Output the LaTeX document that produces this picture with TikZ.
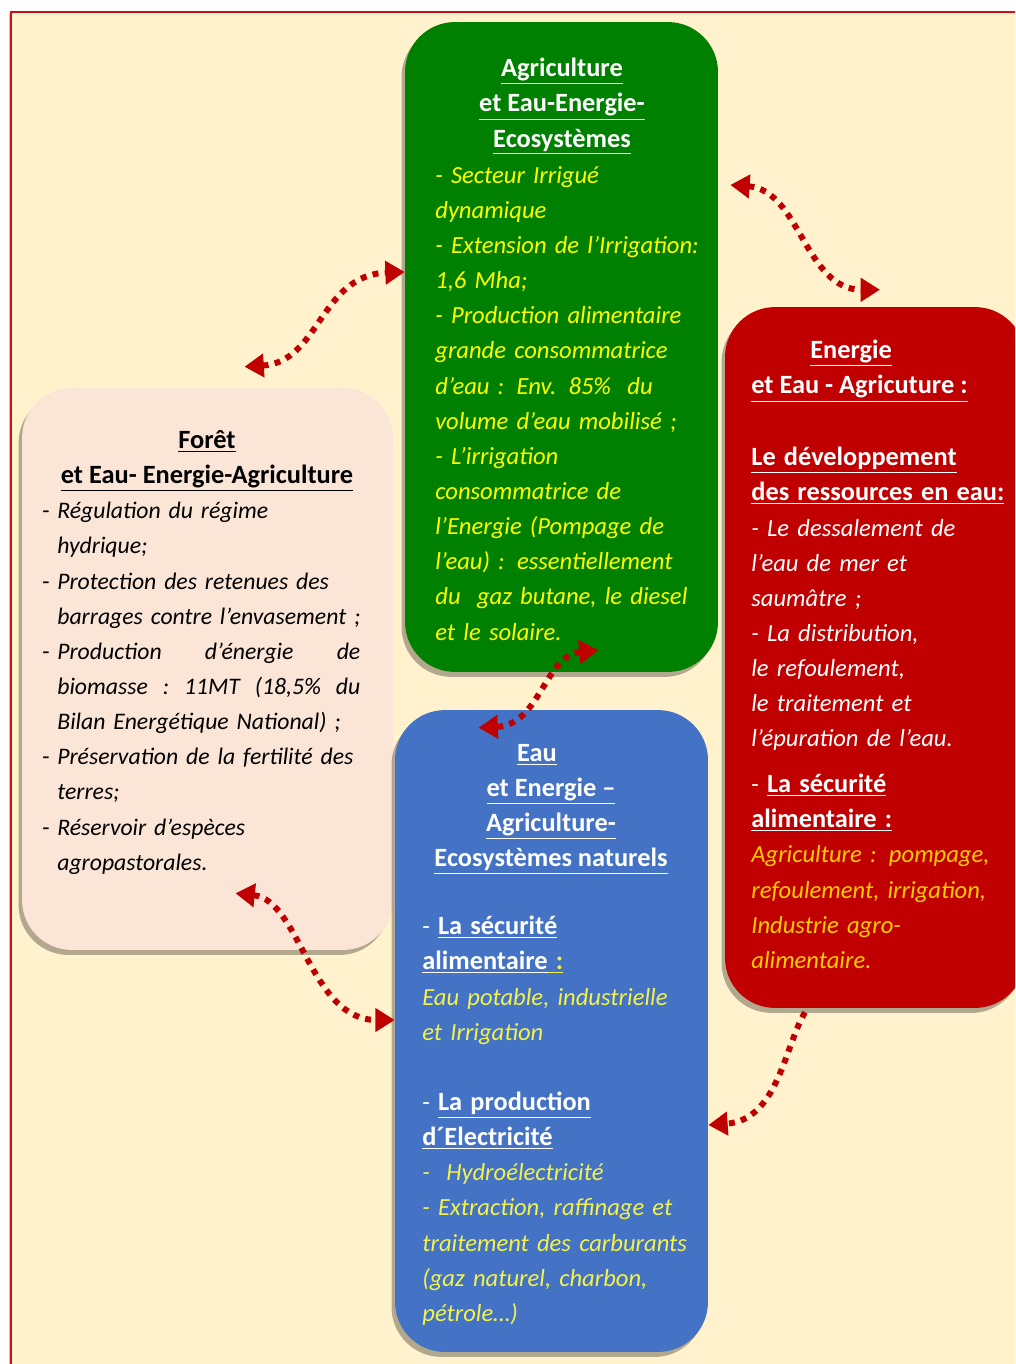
\documentclass[tikz,border=0pt]{standalone}
\usepackage{fontspec}
\setmainfont{Carlito}
\usepackage{xcolor}
\usepackage{tikz}
\usetikzlibrary{arrows.meta,shadows}
\definecolor{cream}{HTML}{FFF2CC}
\definecolor{framered}{HTML}{D01010}
\definecolor{agrigreen}{HTML}{008000}
\definecolor{energyred}{HTML}{C00000}
\definecolor{forestpink}{HTML}{FBE5D6}
\definecolor{eaublue}{HTML}{4472C4}
\definecolor{linkred}{HTML}{C00000}
\definecolor{greenyellow}{HTML}{FFFF00}
\definecolor{redyellow}{HTML}{FFCC00}
\definecolor{blueyellow}{HTML}{F2F24A}
\newcommand{\hdg}[1]{\underline{\upshape\bfseries\fontsize{15}{20}\selectfont #1}}
\newcommand{\itm}{\makebox[0.3cm][l]{\upshape -}}
\newcommand{\fcont}{\hspace*{0.3cm}}
\newcommand{\jline}[1]{\hbox to 6.06cm{#1}}
\tikzset{
  nexusbox/.style={rounded corners=1cm, inner sep=0pt, drop shadow={shadow xshift=-0.7mm, shadow yshift=-1mm, fill=black, opacity=0.3}},
  boxtitle/.style={align=center, anchor=north, inner sep=0pt},
  boxbody/.style={align=left, anchor=north west, inner sep=0pt},
  nexuslink/.style={draw=linkred, line width=3.4pt, dash pattern=on 3.4pt off 3.6pt, {Triangle[length=11pt,width=13pt]}-{Triangle[length=11pt,width=13pt]}},
  nexusoneway/.style={draw=linkred, line width=3.4pt, dash pattern=on 3.4pt off 3.6pt, -{Triangle[length=11pt,width=13pt]}}
}
\begin{document}
\begin{tikzpicture}[x=0.02cm, y=-0.02cm, font=\fontsize{14}{20}\selectfont]
\clip (0,0) rectangle (1015,1364);
\fill[white] (0,0) rectangle (1015,1364);
\draw[framered, line width=1pt, fill=cream, drop shadow={shadow xshift=-0.5mm, shadow yshift=-0.5mm, opacity=0.4}] (11,12) rectangle (1040,1390);

\node[nexusbox, fill=forestpink, minimum width=7.42cm, minimum height=11.24cm] (foret) at (207.5,669) {};
\node[nexusbox, fill=eaublue, minimum width=6.26cm, minimum height=12.84cm] (eau) at (551.5,1031) {};
\node[nexusbox, fill=agrigreen, minimum width=6.26cm, minimum height=13cm] (agri) at (561.5,347) {};
\node[nexusbox, fill=energyred, minimum width=6cm, minimum height=14.02cm] (energie) at (875,657.5) {};

\node[boxtitle, text=white] (agrititle) at (562,58) {\hdg{Agriculture}\\\hdg{et Eau-Energie-}\\\hdg{Ecosystèmes}};
\node[boxbody, text=greenyellow, text width=5.8cm, font=\fontsize{14}{20}\selectfont\itshape] (agribody) at (435,166) {%
- Secteur Irrigué\\
dynamique\\
- Extension de l’Irrigation:\\
1,6 Mha;\\
- Production alimentaire\\
grande consommatrice\\
d’eau : Env. 85\%\ \ du\\
volume d’eau mobilisé ;\\
- L’irrigation\\
consommatrice de\\
l’Energie (Pompage de\\
l’eau) : essentiellement\\
du\ \ gaz butane, le diesel\\
et le solaire.};

\node[boxtitle] (forettitle) at (207,430) {\hdg{Forêt}\\\hdg{et Eau- Energie-Agriculture}};
\node[boxbody, text width=7.5cm, font=\fontsize{13.5}{20}\selectfont\itshape] (foretbody) at (42,502) {%
\itm Régulation du régime\\
\fcont hydrique;\\
\itm Protection des retenues des\\
\fcont barrages contre l’envasement ;\\
\itm \jline{Production\hfill d’énergie\hfill de}\\
\fcont \jline{biomasse\hfill :\hfill 11MT\hfill (18,5\%\hfill du}\\
\fcont Bilan Energétique National) ;\\
\itm Préservation de la fertilité des\\
\fcont terres;\\
\itm Réservoir d’espèces\\
\fcont agropastorales.};

\node[boxbody, text=white] (energietitle) at (751,340) {\hspace*{1.18cm}\hdg{Energie}\\\hdg{et Eau - Agricuture :}};
\node[boxbody, text=white, text width=6cm] (energiebody) at (751,447) {%
\hdg{Le développement}\\
\hdg{des ressources en eau:}\\
{\itshape - Le dessalement de\\
l’eau de mer et\\
saumâtre ;\\
- La distribution,\\
le refoulement,\\
le traitement et\\
l’épuration de l’eau.}\\[6pt]
- \hdg{La sécurité}\\
\hdg{alimentaire :}\\
{\itshape\color{redyellow} Agriculture : pompage,\\
refoulement, irrigation,\\
Industrie agro-\\
alimentaire.}};

\node[boxtitle, text=white] (eautitle) at (551,744) {\hdg{Eau}\kern0.56cm\\\hdg{et Energie –}\\\hdg{Agriculture-}\\\hdg{Ecosystèmes naturels}};
\node[boxbody, text=white, text width=6cm] (eaubody) at (422,916) {%
- \hdg{La sécurité}\\
\hdg{alimentaire}\textcolor{blueyellow}{\hdg{\ :}}\\
{\itshape\color{blueyellow} Eau potable, industrielle\\
et Irrigation}\\[20pt]
- \hdg{La production}\\
\hdg{d´Electricité}\\
{\itshape\color{blueyellow} -\ \ Hydroélectricité\\
- Extraction, raffinage et\\
traitement des carburants\\
(gaz naturel, charbon,\\
pétrole…)}};

\draw[nexuslink] ([shift={(37,-21)}]foret.north) .. controls (320,362) and (320,275) .. ([shift={(0,-75)}]agri.west);
\draw[nexuslink] ([shift={(12,-162)}]agri.east) .. controls (800,190) and (805,290) .. ([shift={(5,-17)}]energie.north);
\draw[nexuslink] ([shift={(37,-22)}]agri.south) .. controls (545,655) and (540,725) .. ([shift={(-73,18)}]eau.north);
\draw[nexuslink] ([shift={(28,-57)}]foret.south) .. controls (300,900) and (310,1020) .. ([shift={(0,-11)}]eau.west);
\draw[nexusoneway] ([shift={(-70,4)}]energie.south) .. controls (785,1045) and (778,1120) .. ([shift={(0,94)}]eau.east);
\end{tikzpicture}
\end{document}
